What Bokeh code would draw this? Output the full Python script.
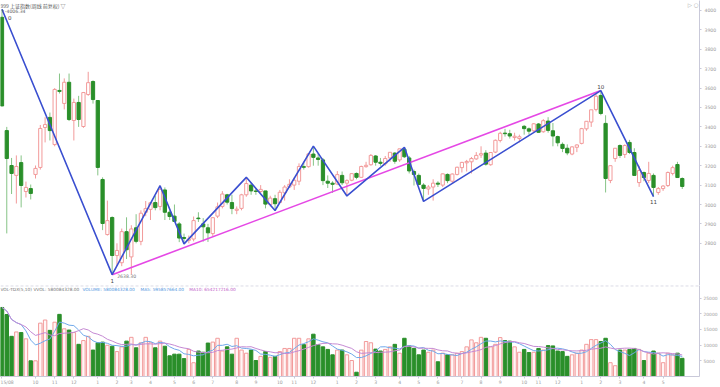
import pandas as pd
from bokeh.plotting import figure
from bokeh.layouts import column
from bokeh.models import ColumnDataSource, Range1d, FixedTicker, Label, Span
from bokeh.embed import file_html
from bokeh.resources import INLINE

# ---------------- data (weekly bars, Aug 2015 .. May 2018) ----------------
opens = [3965, 3381, 3201, 3150, 3216, 3067, 3082, 3155, 3191, 3397,
         3449, 3309, 3588, 3521, 3630, 3433, 3526, 3402, 3567, 3634,
         3536, 3129, 2845, 2933, 2737, 2700, 2860, 2730, 2880, 2810,
         2960, 2975, 3010, 2990, 3075, 2960, 2940, 2900, 2830, 2815,
         2822, 2930, 2900, 2880, 2850, 2940, 2990, 3050, 3010, 2970,
         2980, 3050, 3100, 3070, 3067, 3070, 3000, 3030, 3010, 3060,
         3090, 3100, 3120, 3195, 3195, 3260, 3240, 3230, 3120, 3110,
         3105, 3150, 3110, 3125, 3160, 3140, 3195, 3205, 3250, 3218,
         3210, 3240, 3265, 3230, 3285, 3240, 3170, 3150, 3100, 3080,
         3090, 3110, 3100, 3155, 3120, 3155, 3190, 3215, 3220, 3235,
         3255, 3265, 3205, 3270, 3330, 3368, 3365, 3345, 3340, 3403,
         3390, 3380, 3415, 3375, 3430, 3380, 3350, 3310, 3290, 3260,
         3295, 3315, 3390, 3425, 3490, 3562, 3418, 3124, 3237, 3304,
         3258, 3320, 3268, 3113, 3165, 3124, 3150, 3062, 3082, 3098,
         3160, 3206, 3134]
highs = [4006.34, 3400, 3240, 3253, 3253, 3118, 3103, 3201, 3410, 3450,
         3474, 3600, 3675, 3650, 3675, 3546, 3560, 3580, 3684, 3640,
         3538, 3140, 3020, 2939, 2800, 2876, 2934, 2893, 2950, 2970,
         3018, 3010, 3045, 3097, 3088, 2970, 3000, 2910, 2850, 2840,
         2938, 2960, 2930, 2900, 2935, 3010, 3069, 3055, 3050, 2990,
         3055, 3140, 3110, 3085, 3100, 3070, 3045, 3050, 3075, 3100,
         3130, 3140, 3212, 3220, 3265, 3301, 3265, 3240, 3150, 3120,
         3172, 3170, 3130, 3160, 3165, 3200, 3220, 3260, 3255, 3240,
         3250, 3270, 3270, 3287, 3295, 3250, 3180, 3160, 3110, 3100,
         3130, 3120, 3160, 3160, 3160, 3195, 3220, 3230, 3245, 3270,
         3300, 3280, 3270, 3335, 3375, 3390, 3385, 3370, 3360, 3410,
         3397, 3420, 3420, 3440, 3450, 3420, 3355, 3320, 3310, 3300,
         3310, 3395, 3430, 3488, 3570, 3587, 3460, 3200, 3290, 3310,
         3310, 3333, 3290, 3200, 3170, 3220, 3160, 3090, 3100, 3170,
         3200, 3220, 3140]
lows = [3507, 2851, 3054, 3005, 2985, 3036, 3026, 3134, 3180, 3320,
        3330, 3300, 3572, 3490, 3430, 3330, 3400, 3395, 3560, 3520,
        3150, 2868, 2840, 2638.30, 2684, 2682, 2719, 2639, 2800, 2790,
        2940, 2920, 2970, 2970, 2920, 2920, 2910, 2806, 2797, 2800,
        2810, 2910, 2809, 2807, 2838, 2930, 2980, 3000, 2950, 2950,
        2970, 3040, 3050, 3050, 3060, 2980, 2990, 2969, 3010, 3020,
        3085, 3075, 3100, 3180, 3190, 3200, 3200, 3100, 3085, 3060,
        3100, 3100, 3044, 3120, 3130, 3140, 3190, 3200, 3200, 3200,
        3200, 3220, 3210, 3220, 3240, 3160, 3098, 3100, 3016, 3050,
        3020, 3090, 3090, 3110, 3110, 3150, 3165, 3170, 3160, 3230,
        3240, 3200, 3200, 3265, 3320, 3350, 3340, 3330, 3320, 3360,
        3360, 3370, 3370, 3370, 3370, 3300, 3300, 3270, 3254, 3254,
        3270, 3310, 3380, 3400, 3480, 3460, 3062, 3110, 3220, 3240,
        3240, 3260, 3150, 3091, 3120, 3110, 3041, 3050, 3070, 3090,
        3150, 3139, 3080]
closes = [3508, 3237, 3160, 3196, 3098, 3088, 3057, 3186, 3392, 3412,
          3381, 3593, 3583, 3630, 3438, 3526, 3438, 3577, 3628, 3541,
          3191, 2902, 2917, 2737, 2763, 2860, 2767, 2874, 2810, 2955,
          2979, 3009, 2984, 3078, 2960, 2938, 2913, 2827, 2825, 2822,
          2917, 2927, 2885, 2854, 2932, 2988, 3054, 3012, 2979, 2976,
          3050, 3108, 3070, 3067, 3078, 3002, 3033, 3004, 3063, 3090,
          3104, 3125, 3196, 3192, 3261, 3243, 3232, 3123, 3110, 3104,
          3154, 3112, 3123, 3159, 3140, 3196, 3202, 3253, 3218, 3212,
          3237, 3269, 3223, 3287, 3246, 3173, 3155, 3103, 3083, 3090,
          3110, 3105, 3158, 3123, 3157, 3192, 3217, 3222, 3237, 3253,
          3262, 3208, 3268, 3331, 3367, 3365, 3353, 3352, 3349, 3391,
          3378, 3416, 3372, 3432, 3382, 3353, 3318, 3289, 3266, 3297,
          3307, 3391, 3429, 3488, 3558, 3469, 3134, 3200, 3290, 3253,
          3304, 3268, 3150, 3175, 3139, 3160, 3088, 3082, 3095, 3165,
          3190, 3139, 3093]
volumes = [22000, 19750, 12800, 14200, 14000, 12000, 5000, 5000, 17000, 18000,
           14700, 17300, 19800, 15200, 14800, 14000, 10250, 11450, 12800, 8430,
           10750, 10950, 9950, 9650, 7940, 9450, 11270, 12480, 9150, 10750,
           12480, 10750, 9150, 11270, 9650, 6600, 7120, 7120, 5700, 8630,
           4390, 8120, 7730, 10660, 10960, 12180, 8120, 9450, 7120, 12180,
           8430, 7420, 8430, 5090, 6420, 7940, 6120, 6420, 7940, 8940,
           8940, 12180, 12180, 10150, 12000, 13480, 10150, 9450, 8630, 6910,
           8430, 8430, 6910, 5090, 1360, 8400, 11150, 10750, 8730, 8120,
           8630, 9450, 10250, 7420, 12180, 9750, 8940, 6910, 8430, 7730,
           8430, 4700, 7430, 6910, 6910, 7430, 7940, 9450, 11660, 10750,
           12480, 12180, 9450, 10250, 12400, 11450, 11270, 9450, 7730, 8630,
           7630, 7730, 8940, 8430, 9850, 9750, 8120, 7940, 6420, 6910,
           7430, 8430, 10250, 11760, 11760, 11150, 12180, 4400, 3440, 8430,
           8430, 8630, 8940, 8630, 5090, 7430, 8120, 7430, 4400, 7430,
           6910, 7430, 5800]

month_idx = [0, 7, 11, 15, 20, 24, 27, 31, 36, 40, 44, 49, 53, 58, 61, 65,
             70, 74, 78, 83, 87, 91, 96, 100, 104, 109, 112, 116, 121, 125,
             129, 134, 138]
month_lbl = ["15/08", "10", "11", "12", "1", "2", "3", "4", "5", "6", "7", "8",
             "9", "10", "11", "12", "1", "2", "3", "4", "5", "6", "7", "8", "9",
             "10", "11", "12", "1", "2", "3", "4", "5"]

pivot_idx = [0, 23, 33, 38, 51, 57, 65, 72, 84, 88, 125, 136]
pivot_val = [4006.34, 2638.30, 3097, 2797, 3140, 2969, 3301, 3044, 3295, 3016, 3587, 3041]

price_ticks = [2800, 2900, 3000, 3100, 3200, 3300, 3400, 3500, 3600, 3700, 3800, 3900, 4000]
vol_ticks = [5000, 10000, 15000, 20000, 25000]

# ---------------- styling ----------------
GREEN = "#2a8f2a"
GREEN_W = "#86c486"
PINK = "#f29a9a"
AXIS_C = "#c9c9d9"
LBL_C = "#9a9a9a"
FONT = "DejaVu Sans"
CJK = "Noto Sans CJK SC"

n = len(opens)
idx = list(range(n))
up = [c >= o for o, c in zip(opens, closes)]

def pick(lst, flag):
    return [val for val, u in zip(lst, up) if u == flag]

src_up = ColumnDataSource(dict(x=pick(idx, True), o=pick(opens, True), h=pick(highs, True),
                               l=pick(lows, True), c=pick(closes, True), v=pick(volumes, True)))
src_dn = ColumnDataSource(dict(x=pick(idx, False), o=pick(opens, False), h=pick(highs, False),
                               l=pick(lows, False), c=pick(closes, False), v=pick(volumes, False)))

W = 720
RB = 21
x_rng = Range1d(-0.31, 145.6)

# ---------------- main price pane ----------------
p = figure(width=W, height=285, x_range=x_rng, y_range=Range1d(2582.5, 4051.5),
           output_backend="svg", toolbar_location=None, y_axis_location="right",
           x_axis_location=None, min_border_left=0, min_border_right=RB,
           min_border_top=0, min_border_bottom=0, outline_line_color=None,
           background_fill_color="white", border_fill_color="white")
p.grid.visible = False

p.segment(x0="x", y0="l", x1="x", y1="h", source=src_dn, line_color=GREEN_W, line_width=1)
p.segment(x0="x", y0="l", x1="x", y1="h", source=src_up, line_color=PINK, line_width=1)
p.vbar(x="x", width=0.68, top="o", bottom="c", source=src_dn, fill_color=GREEN, line_color=GREEN)
p.vbar(x="x", width=0.68, top="c", bottom="o", source=src_up, fill_color="white", line_color=PINK)

p.line([pivot_idx[1], pivot_idx[10]], [pivot_val[1], pivot_val[10]], line_color="#e548e5", line_width=1.6)
p.line(pivot_idx, pivot_val, line_color="#3a4fd0", line_width=1.6)

ya = p.yaxis[0]
ya.ticker = FixedTicker(ticks=price_ticks)
ya.axis_line_color = AXIS_C
ya.major_tick_line_color = AXIS_C
ya.major_tick_out = 2
ya.major_tick_in = 0
ya.minor_tick_line_color = None
ya.major_label_text_font = FONT
ya.major_label_text_font_size = "4.6px"
ya.major_label_text_color = LBL_C
ya.major_label_standoff = 3

def lab(fig, x, y, text, color="#555555", size="4.6px", font=FONT, align="left",
        base="middle", xo=0, yo=0):
    fig.add_layout(Label(x=x, y=y, text=text, text_color=color, text_font_size=size,
                         text_font=font, text_align=align, text_baseline=base,
                         x_offset=xo, y_offset=yo))

lab(p, -0.31, 4051.5, "999 上证指数(周线 前复权) ▽", color="#555555", size="5px",
    font=CJK, base="top", yo=-1)
lab(p, pivot_idx[0], pivot_val[0], "↑-4006.34", color="#666666", xo=-1, yo=-2)
lab(p, pivot_idx[0], pivot_val[0], "0", color="#444444", size="5.5px", xo=6, yo=-8)
lab(p, pivot_idx[1], pivot_val[1], "1", color="#444444", size="5.5px", align="center", base="top", yo=-3)
lab(p, pivot_idx[1], pivot_val[1], "2638.30", color="#777777", xo=5, yo=-1)
lab(p, pivot_idx[10], pivot_val[10], "10", color="#444444", size="5.5px", align="center", base="bottom", yo=2)
lab(p, pivot_idx[11], pivot_val[11], "11", color="#444444", size="5.5px", align="center", base="top", yo=-2)
lab(p, 145.6, 4051.5, "▷ ○", color="#aaaaaa", size="5.5px", align="right", base="top", xo=-1, yo=-1)

# ---------------- volume pane ----------------
v = figure(width=W, height=102, x_range=x_rng, y_range=Range1d(0, 29000),
           output_backend="svg", toolbar_location=None, y_axis_location="right",
           min_border_left=0, min_border_right=RB, min_border_top=0, min_border_bottom=8,
           outline_line_color=None, background_fill_color="white", border_fill_color="white")
v.grid.visible = False

v.vbar(x="x", width=0.72, top="v", bottom=0, source=src_dn, fill_color=GREEN, line_color=GREEN)
v.vbar(x="x", width=0.72, top="v", bottom=0, source=src_up, fill_color="#fff6f6", line_color=PINK)

vs = pd.Series(volumes, dtype=float)
ma5 = vs.rolling(5, min_periods=1).mean().tolist()
ma10 = vs.rolling(10, min_periods=1).mean().tolist()
v.line(idx, ma5, line_color="#6fa8ea", line_width=1)
v.line(idx, ma10, line_color="#c58ad3", line_width=1)

v.add_layout(Span(location=28900, dimension="width", line_color=AXIS_C, line_dash="3 2", line_width=1))

vy = v.yaxis[0]
vy.ticker = FixedTicker(ticks=vol_ticks)
vy.axis_line_color = AXIS_C
vy.major_tick_line_color = AXIS_C
vy.major_tick_out = 2
vy.major_tick_in = 0
vy.minor_tick_line_color = None
vy.major_label_text_font = FONT
vy.major_label_text_font_size = "4.4px"
vy.major_label_text_color = LBL_C
vy.major_label_standoff = 2

vx = v.xaxis[0]
vx.ticker = FixedTicker(ticks=month_idx)
vx.major_label_overrides = {i: t for i, t in zip(month_idx, month_lbl)}
vx.axis_line_color = AXIS_C
vx.major_tick_line_color = AXIS_C
vx.major_tick_out = 2
vx.major_tick_in = 0
vx.minor_tick_line_color = None
vx.major_label_text_font = FONT
vx.major_label_text_font_size = "4.6px"
vx.major_label_text_color = LBL_C
vx.major_label_standoff = 1

lab(v, -0.31, 29000, "VOL-TDX(5,10) VVOL: 580084328.00", color="#777777", size="4.3px", base="top", yo=-1)
lab(v, 16.8, 29000, "VOLUME: 580084328.00", color="#4f95e0", size="4.3px", base="top", yo=-1)
lab(v, 28.9, 29000, "MA5: 595857664.00", color="#4f95e0", size="4.3px", base="top", yo=-1)
lab(v, 39.1, 29000, "MA10: 654217216.00", color="#c060c8", size="4.3px", base="top", yo=-1)

layout = column(p, v, spacing=0)
open("out.html", "w").write(file_html(layout, INLINE))
